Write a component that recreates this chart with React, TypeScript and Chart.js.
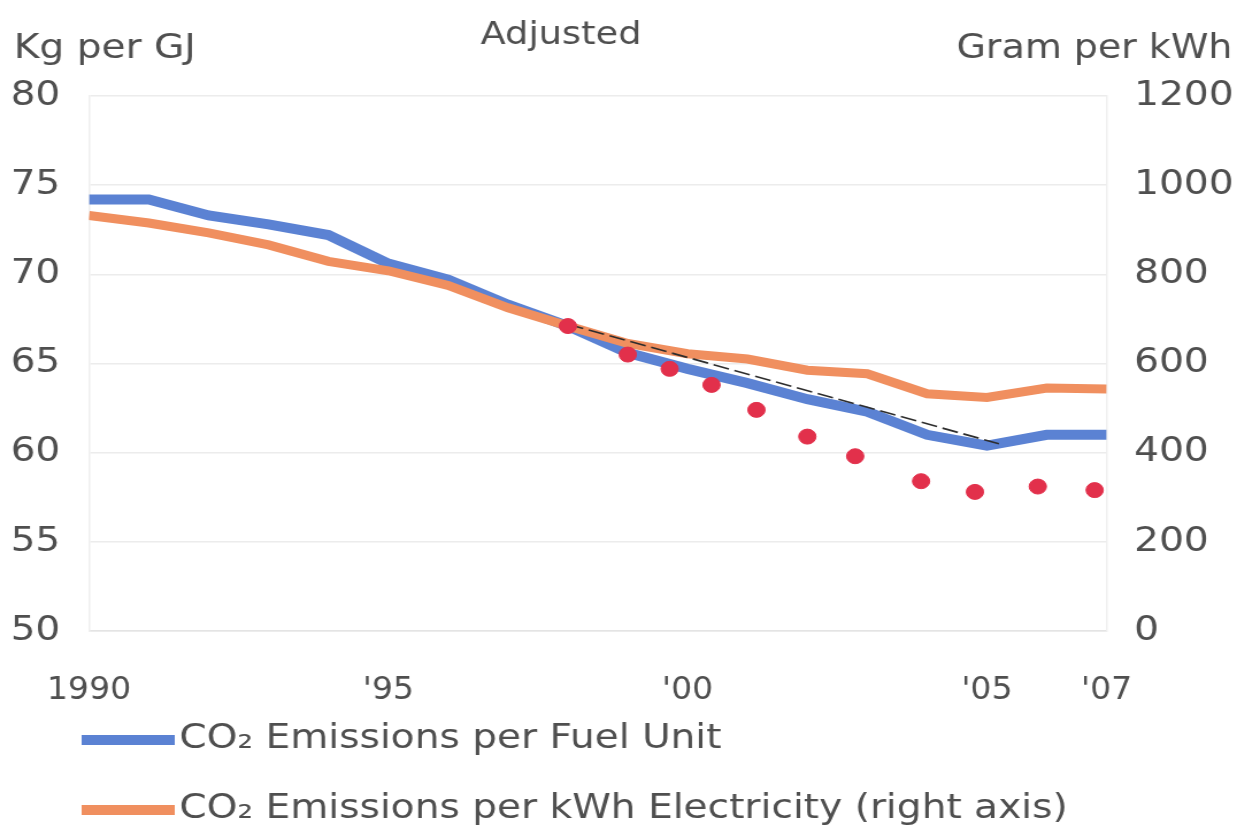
import React, { useEffect, useRef } from "react";
import { Chart, registerables } from "chart.js";

Chart.register(...registerables);

// ---------- data ----------
const years = [1990, 1991, 1992, 1993, 1994, 1995, 1996, 1997, 1998, 1999, 2000, 2001, 2002, 2003, 2004, 2005, 2006, 2007];
const fuelUnitKgPerGJ = [74.2, 74.2, 73.3, 72.8, 72.2, 70.6, 69.7, 68.3, 67.1, 65.6, 64.7, 63.9, 63.0, 62.3, 61.0, 60.4, 61.0, 61.0];
const electricityGramPerKWh = [932, 915, 893, 866, 829, 808, 775, 725, 684, 645, 622, 610, 585, 577, 532, 524, 545, 543];
const adjustedYears = [1998.0, 1999.0, 1999.7, 2000.4, 2001.15, 2002.0, 2002.8, 2003.9, 2004.8, 2005.85, 2006.8];
const adjustedValues = [67.1, 65.5, 64.7, 63.8, 62.4, 60.9, 59.8, 58.4, 57.8, 58.1, 57.9];
const trendYears = [1998, 2005.2];
const trendValues = [67.2, 60.5];
const xTickYears = [1990, 1995, 2000, 2005, 2007];

const seriesLabels = ["CO₂ Emissions per Fuel Unit", "CO₂ Emissions per kWh Electricity (right axis)"];
const leftAxisTitle = "Kg per GJ";
const rightAxisTitle = "Gram per kWh";
const chartTitle = "Adjusted";

// ---------- style ----------
const SX = 1.15; // horizontal stretch of the reference
const PAGE_W = 1237;
const PAGE_H = 830;
const W = Math.round(PAGE_W / SX);
const H = PAGE_H;
const FONT = '"DejaVu Sans", Verdana, sans-serif';
const FONT_NARROW = '"DejaVu Sans Condensed", "DejaVu Sans", Verdana, sans-serif';
const TEXT = "#4f4f4f";
const BLUE = "#5b82d3";
const ORANGE = "#f08f5f";
const RED = "#e2304b";
const AREA_LEFT = 77.4;
const AREA_RIGHT = 962.6;
const AREA_TOP = 96;
const AREA_BOTTOM = 631;

const decorPlugin = {
  id: "decor",
  afterDraw(chart: any) {
    const ctx = chart.ctx as CanvasRenderingContext2D;
    ctx.save();
    ctx.fillStyle = TEXT;
    ctx.textBaseline = "alphabetic";
    ctx.font = `34px ${FONT}`;
    ctx.textAlign = "left";
    ctx.fillText(leftAxisTitle, 12, 58);
    ctx.font = `33px ${FONT}`;
    ctx.textAlign = "right";
    ctx.fillText(rightAxisTitle, W - 4, 58);
    ctx.font = `32px ${FONT}`;
    ctx.textAlign = "center";
    ctx.fillText(chartTitle, 488, 44);

    // legend
    const items = chart.data.datasets
      .filter((d: any) => d.legendRow !== undefined)
      .sort((a: any, b: any) => a.legendRow - b.legendRow);
    ctx.font = `34px ${FONT}`;
    ctx.textAlign = "left";
    ctx.textBaseline = "middle";
    items.forEach((d: any, i: number) => {
      const y = 740 + i * 70;
      ctx.strokeStyle = d.borderColor;
      ctx.lineWidth = 10;
      ctx.beginPath();
      ctx.moveTo(71, y);
      ctx.lineTo(152, y);
      ctx.stroke();
      ctx.fillStyle = TEXT;
      ctx.fillText(d.label, 156, y - 1);
    });
    ctx.restore();
  },
};

export default function App() {
  const ref = useRef<HTMLCanvasElement | null>(null);

  useEffect(() => {
    if (!ref.current) return;
    const tickFont = { family: FONT, size: 34 };
    const chart = new Chart(ref.current, {
      type: "line",
      data: {
        datasets: [
          {
            label: "Adjusted",
            data: adjustedYears.map((x, i) => ({ x, y: adjustedValues[i] })),
            yAxisID: "y",
            showLine: false,
            pointRadius: 7.5,
            pointBackgroundColor: RED,
            pointBorderColor: RED,
            borderColor: RED,
          },
          {
            label: "Trend",
            data: trendYears.map((x, i) => ({ x, y: trendValues[i] })),
            yAxisID: "y",
            borderColor: "#2d2d2d",
            borderWidth: 1.6,
            borderDash: [14, 5],
            pointRadius: 0,
          },
          {
            label: seriesLabels[1],
            legendRow: 1,
            data: years.map((x, i) => ({ x, y: electricityGramPerKWh[i] })),
            yAxisID: "y1",
            borderColor: ORANGE,
            borderWidth: 9,
            pointRadius: 0,
            tension: 0,
          } as any,
          {
            label: seriesLabels[0],
            legendRow: 0,
            data: years.map((x, i) => ({ x, y: fuelUnitKgPerGJ[i] })),
            yAxisID: "y",
            borderColor: BLUE,
            borderWidth: 10,
            pointRadius: 0,
            tension: 0,
          } as any,
        ],
      },
      options: {
        responsive: false,
        animation: false,
        events: [],
        layout: { padding: { top: AREA_TOP, left: 0, right: 0, bottom: 0 } },
        plugins: {
          legend: { display: false },
          tooltip: { enabled: false },
          title: { display: false },
        },
        scales: {
          x: {
            type: "linear",
            min: 1990,
            max: 2007,
            grid: { display: false },
            border: { display: true, color: "#e4e4e4", width: 1.5, dash: [12, 8] },
            afterBuildTicks: (s: any) => {
              s.ticks = xTickYears.map((v) => ({ value: v }));
            },
            afterFit: (s: any) => {
              s.height = H - AREA_BOTTOM;
            },
            ticks: {
              autoSkip: false,
              maxRotation: 0,
              padding: 32,
              color: TEXT,
              font: { family: FONT_NARROW, size: 32 },
              callback: (v: any) => (v === 1990 ? "1990" : "'" + String(v).slice(2)),
            },
          },
          y: {
            position: "left",
            min: 50,
            max: 80,
            grid: { color: "#ececec", lineWidth: 1.5, drawTicks: false },
            border: { display: true, color: "#efefef", width: 1.5 },
            afterFit: (s: any) => {
              s.width = AREA_LEFT;
            },
            ticks: { stepSize: 5, padding: 25, color: TEXT, font: tickFont },
          },
          y1: {
            position: "right",
            min: 0,
            max: 1200,
            grid: { display: false, drawTicks: false },
            border: { display: true, color: "#efefef", width: 1.5 },
            afterFit: (s: any) => {
              s.width = W - AREA_RIGHT;
            },
            ticks: {
              stepSize: 200,
              padding: 24,
              color: TEXT,
              font: tickFont,
              callback: (v: any) => String(v),
            },
          },
        },
      },
      plugins: [decorPlugin],
    } as any);
    return () => chart.destroy();
  }, []);

  return (
    <canvas
      ref={ref}
      width={W}
      height={H}
      style={{ position: "absolute", left: 0, top: 0, width: PAGE_W + "px", height: PAGE_H + "px" }}
    />
  );
}
